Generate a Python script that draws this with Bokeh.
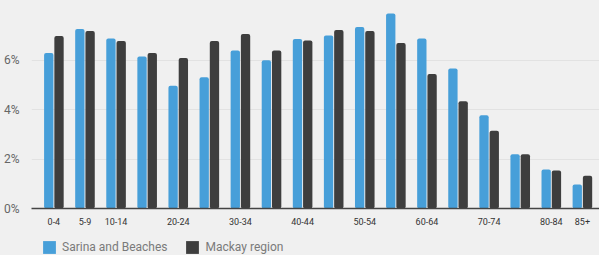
from bokeh.plotting import figure
from bokeh.layouts import column
from bokeh.models import ColumnDataSource, FixedTicker, Range1d, Legend, LegendItem, PrintfTickFormatter
from bokeh.transform import dodge
from bokeh.embed import file_html
from bokeh.resources import INLINE

age_groups = ["0-4", "5-9", "10-14", "15-19", "20-24", "25-29", "30-34", "35-39", "40-44",
              "45-49", "50-54", "55-59", "60-64", "65-69", "70-74", "75-79", "80-84", "85+"]
sarina = [6.29, 7.26, 6.88, 6.15, 4.97, 5.31, 6.39, 6.00, 6.86,
          7.00, 7.34, 7.89, 6.88, 5.66, 3.77, 2.19, 1.58, 0.97]
mackay = [6.98, 7.18, 6.77, 6.29, 6.09, 6.77, 7.06, 6.39, 6.80,
          7.22, 7.18, 6.69, 5.44, 4.34, 3.14, 2.19, 1.54, 1.32]
shown_labels = ["0-4", "5-9", "10-14", "20-24", "30-34", "40-44", "50-54", "60-64", "70-74", "80-84", "85+"]
y_ticks = [0, 2, 4, 6]
series_names = ["Sarina and Beaches", "Mackay region"]

BG = "#f0f0f0"
BLUE = "#479fd9"
DARK = "#3e3e3e"

idx = list(range(len(age_groups)))
src = ColumnDataSource(dict(x=idx, sarina=sarina, mackay=mackay))

p = figure(width=599, height=239, output_backend="svg", toolbar_location=None,
           x_range=Range1d(-0.72, 17.55), y_range=Range1d(0, 8.13),
           background_fill_color=BG, border_fill_color=BG, outline_line_color=None,
           min_border_left=31, min_border_right=0, min_border_top=7, min_border_bottom=31)

p.vbar(x=dodge("x", -0.165, range=p.x_range), top="sarina", width=0.3, bottom=0,
       source=src, fill_color=BLUE, line_color=None, border_radius=2)
p.vbar(x=dodge("x", 0.165, range=p.x_range), top="mackay", width=0.3, bottom=0,
       source=src, fill_color=DARK, line_color=None, border_radius=2)

# x axis
tick_pos = [age_groups.index(l) for l in shown_labels]
p.xaxis.ticker = FixedTicker(ticks=tick_pos)
p.xaxis.major_label_overrides = {i: age_groups[i] for i in tick_pos}
p.xaxis.major_tick_line_color = None
p.xaxis.minor_tick_line_color = None
p.xaxis.axis_line_color = "#444444"
p.xaxis.axis_line_width = 1.5
p.xaxis.major_label_text_font = "Roboto"
p.xaxis.major_label_text_font_size = "9px"
p.xaxis.major_label_text_color = "#333333"
p.xaxis.major_label_standoff = 3

# y axis
p.yaxis.ticker = FixedTicker(ticks=y_ticks)
p.yaxis.formatter = PrintfTickFormatter(format="%d%%")
p.yaxis.major_tick_line_color = None
p.yaxis.minor_tick_line_color = None
p.yaxis.axis_line_color = None
p.yaxis.major_label_text_font = "Roboto"
p.yaxis.major_label_text_font_size = "12px"
p.yaxis.major_label_text_color = "#666666"
p.yaxis.major_label_standoff = 6

p.xgrid.grid_line_color = None
p.ygrid.grid_line_color = "#e2e2e2"
p.ygrid.grid_line_width = 1

# legend strip below the chart
lf = figure(width=599, height=16, output_backend="svg", toolbar_location=None,
            x_range=Range1d(0, 1), y_range=Range1d(0, 1),
            x_axis_location=None, y_axis_location=None,
            background_fill_color=BG, border_fill_color=BG, outline_line_color=None,
            min_border_left=31, min_border_right=0, min_border_top=0, min_border_bottom=0)
lf.grid.visible = False
swatch = ColumnDataSource(dict(x=[0.5], top=[0]))
s1 = lf.vbar(x="x", top="top", bottom=0, width=0.0, source=swatch, fill_color=BLUE, line_color=None)
s2 = lf.vbar(x="x", top="top", bottom=0, width=0.0, source=swatch, fill_color=DARK, line_color=None)

legend = Legend(items=[LegendItem(label=series_names[0], renderers=[s1]),
                       LegendItem(label=series_names[1], renderers=[s2])],
                location=(10, 0), orientation="horizontal",
                background_fill_alpha=0, border_line_color=None,
                padding=0, margin=0, spacing=17,
                glyph_width=16, glyph_height=16, label_standoff=5,
                label_text_font="Roboto", label_text_font_size="12px",
                label_text_color="#7a7a7a")
lf.add_layout(legend, "center")

layout = column(p, lf, spacing=0)

html = file_html(layout, INLINE)
html = html.replace("</head>", "<style>html,body{background:#f0f0f0;}</style></head>", 1)
open("out.html", "w").write(html)
